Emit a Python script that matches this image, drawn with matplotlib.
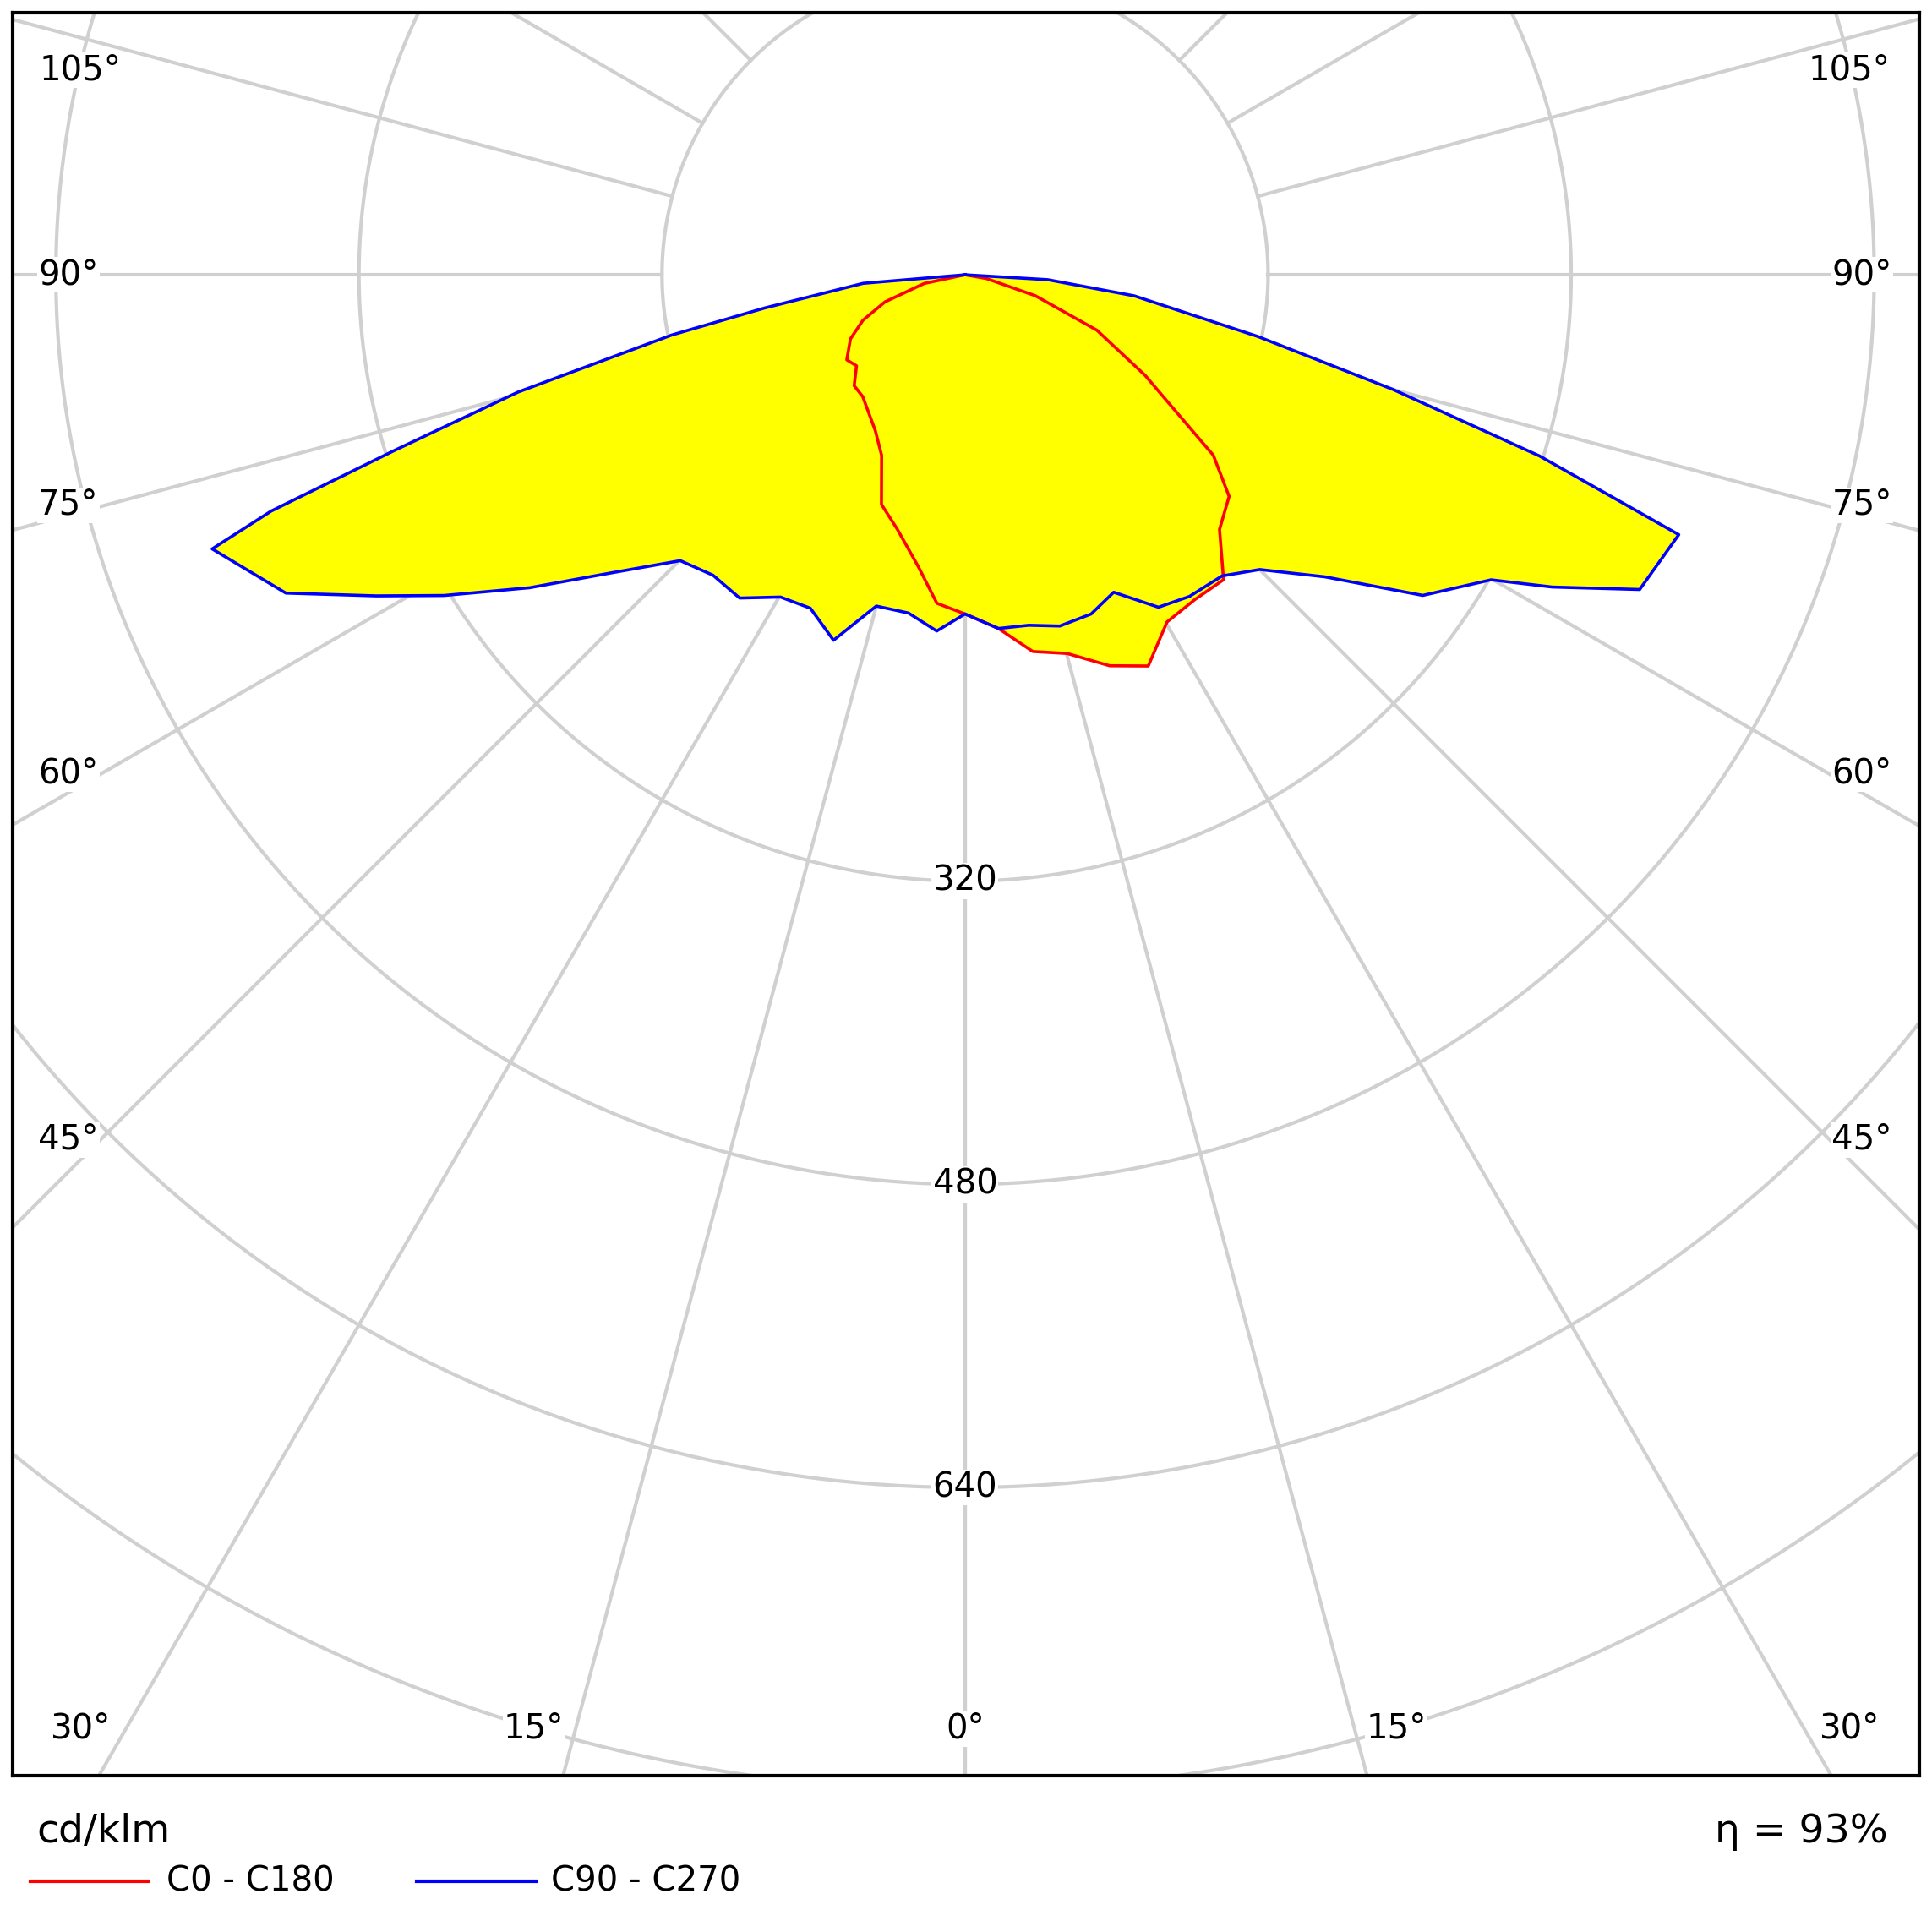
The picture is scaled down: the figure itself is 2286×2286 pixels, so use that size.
import numpy as np
import matplotlib.pyplot as plt

# gamma angle (deg, negative = left half) and intensity (cd/klm)
c90_gamma = [-90, -85.2, -80.6, -78.4, -75.3, -72.9, -71.2, -70, -67.7, -64.9, -61.4, -58.4,
             -54.3, -50, -44.9, -40, -34.9, -29.8, -24.9, -19.8, -15, -9.5, -4.55, 0,
             5.4, 10.3, 15.1, 20.4, 25.1, 30.2, 34.9, 40.5, 45, 50, 55, 59.9, 62, 65, 70,
             72.5, 75, 78.1, 82.9, 86.6, 90]
c90_val = [0, 54, 107, 158, 244, 315, 387, 423, 410, 396, 354, 323,
           283, 245, 213, 207, 208, 196, 194, 205, 181, 181, 188.6, 179,
           187.5, 188, 192, 191, 185, 203, 207, 209, 220, 248, 295, 321, 351, 393, 401,
           318, 234, 158, 90, 43.7, 0]

c0_gamma = [-90, -78, -71.3, -66, -60.8, -54.3, -50, -45, -40, -29.9, -24.8, -20, -14.9,
            -9.1, -4.9, 0, 5.4, 10.2, 15.1, 20.3, 25.1, 30.2, 35.3, 40.3, 45, 50, 54,
            55.5, 60.8, 67.2, 73.4, 80, 90]
c0_val = [0, 22, 44.6, 59, 69.3, 76.9, 74.8, 82.8, 84, 95, 105, 129, 139,
          156, 174, 179, 187.5, 202, 207, 220, 228, 212, 210, 211, 190, 182, 162,
          146, 109, 75.5, 38.7, 11.4, 0]

ring_values = [160, 320, 480, 640, 800, 960]
ring_labels = ["320", "480", "640"]
angle_labels = [105, 90, 75, 60, 45, 30, 15, 0]


def to_xy(gamma, val):
    g = np.radians(gamma)
    v = np.asarray(val)
    return v * np.sin(g), -v * np.cos(g)


s = 1.5375  # pixel scale of reference, used only for label positions
def px(x, y):
    return (x - 783) / s, -(y - 223) / s

fig = plt.figure(figsize=(22.86, 22.86), dpi=100)
ax = fig.add_axes([10 / 1568, 1 - 1441 / 1568, 1548 / 1568, 1431 / 1568])
ax.set_xlim(-503, 504)
ax.set_ylim(-792, 138.5)
ax.set_aspect('auto')
ax.set_xticks([])
ax.set_yticks([])
for sp in ax.spines.values():
    sp.set_linewidth(3)

grid = '#d0d0d0'
t = np.linspace(0, 2 * np.pi, 720)
for r in ring_values:
    ax.plot(r * np.cos(t), r * np.sin(t), color=grid, lw=3, zorder=1)
for a in range(0, 181, 15):
    for sgn in (1, -1):
        g = np.radians(sgn * a)
        ax.plot([160 * np.sin(g), 1200 * np.sin(g)], [-160 * np.cos(g), -1200 * np.cos(g)],
                color=grid, lw=3, zorder=1)

bx, by = to_xy(c90_gamma, c90_val)
rx, ry = to_xy(c0_gamma, c0_val)
ax.fill(bx, by, color='#ffff00', zorder=2, lw=0)
ax.fill(rx, ry, color='#ffff00', zorder=2, lw=0)
ax.plot(rx, ry, color='#ff0000', lw=2.6, zorder=4)
ax.plot(bx, by, color='#0000ff', lw=2.6, zorder=5)

fs = 29
box = dict(facecolor='white', edgecolor='none', pad=1)
for lab, r in zip(ring_labels, [320, 480, 640]):
    ax.text(0, -r, lab, ha='center', va='center', fontsize=fs, bbox=box, zorder=6)

left_pos = {105: (65, 57), 90: (55, 223), 75: (55, 410), 60: (55, 628),
            45: (55, 925), 30: (65, 1403), 15: (433, 1403), 0: (783, 1403)}
for a in angle_labels:
    x, y = left_pos[a]
    ax.text(*px(x, y), f"{a}°", ha='center', va='center', fontsize=fs, bbox=box, zorder=6)
    if a != 0:
        ax.text(*px(1566 - x, y), f"{a}°", ha='center', va='center', fontsize=fs,
                bbox=box, zorder=6)

fig.text(30 / 1568, 1 - 1487 / 1568, "cd/klm", fontsize=34, va='center', ha='left')
fig.text(1532 / 1568, 1 - 1487 / 1568, "η = 93%", fontsize=34, va='center', ha='right')
ly = 1 - 1527 / 1568
fig.add_artist(plt.Line2D([25 / 1568, 120 / 1568], [ly, ly], color='#ff0000', lw=3))
fig.text(135 / 1568, ly, "C0 - C180", fontsize=29, va='center', ha='left')
fig.add_artist(plt.Line2D([338 / 1568, 435 / 1568], [ly, ly], color='#0000ff', lw=3))
fig.text(447 / 1568, ly, "C90 - C270", fontsize=29, va='center', ha='left')

plt.savefig('out.png')
